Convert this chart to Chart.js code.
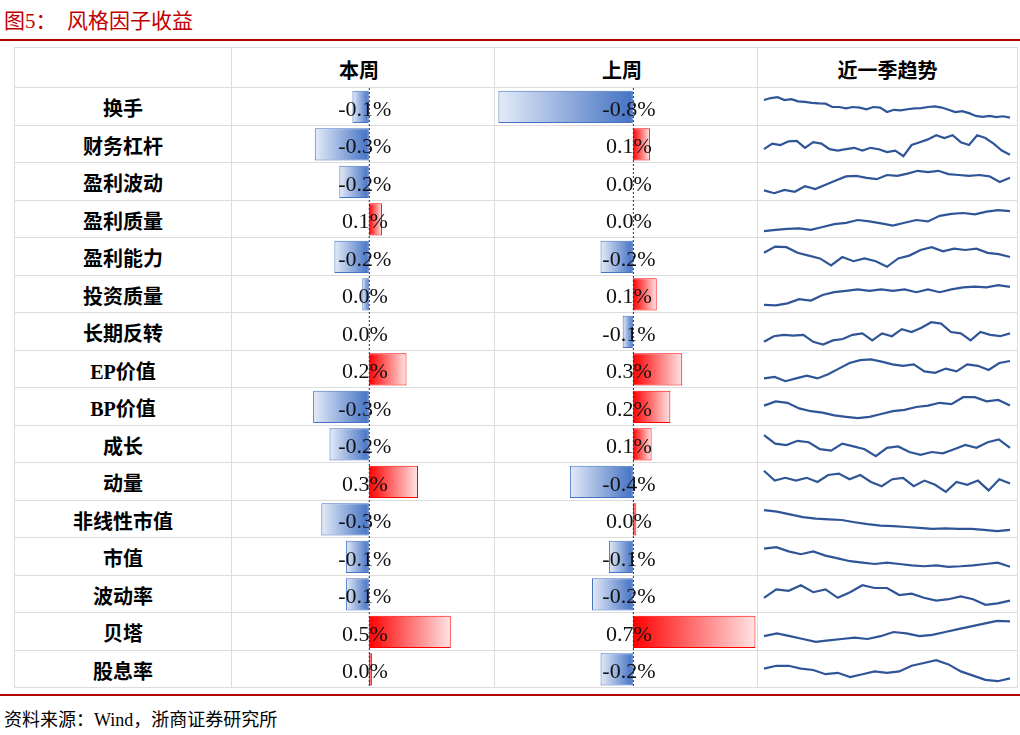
<!DOCTYPE html>
<html>
<head>
<meta charset="utf-8">
<script src="https://cdn.jsdelivr.net/npm/chart.js@4"></script>
<style>
  body { margin: 0; width: 1020px; height: 735px; background: #fff; position: relative; overflow: hidden;
         font-family: "Liberation Serif", "Noto Sans CJK SC", serif; }
  .abs { position: absolute; }
  .title { left: 4px; top: 4px; font-size: 21px; color: #c00000; }
  .redline { left: 0; width: 1020px; height: 2px; background: #b00000; }
  .cell { position: absolute; box-sizing: border-box; border: 1px solid #dcdcdc; margin-left: -1px; margin-top: -1px; }
  .lab { display: flex; align-items: center; justify-content: center; font-weight: bold; font-size: 20px; color: #000; padding-top: 3px; }
  .src { left: 4px; top: 705px; font-size: 18px; color: #000; }
</style>
</head>
<body>
<div class="abs title">图5：&nbsp;&nbsp;风格因子收益</div>
<div class="abs redline" style="top:39px"></div>
<div id="grid"></div>
<canvas id="c1" class="abs" style="left:232px;top:88px" width="263" height="600"></canvas>
<canvas id="c2" class="abs" style="left:495px;top:88px" width="263" height="600"></canvas>
<div id="sparks"></div>
<div class="abs redline" style="top:694px;height:1.5px"></div>
<div class="abs src">资料来源：Wind，浙商证券研究所</div>
<script>
const factors = ['换手','财务杠杆','盈利波动','盈利质量','盈利能力','投资质量','长期反转','EP价值','BP价值','成长','动量','非线性市值','市值','波动率','贝塔','股息率'];
const thisWeek = [-0.10,-0.33,-0.18,0.08,-0.21,-0.04,0.002,0.23,-0.34,-0.24,0.30,-0.29,-0.14,-0.14,0.50,0.02];
const lastWeek = [-0.79,0.10,0.00,0.00,-0.19,0.14,-0.06,0.29,0.22,0.11,-0.37,0.02,-0.14,-0.24,0.72,-0.19];
const trend = [
  [75,82,85,75,78,70,68,65,63,62,50,50,45,50,48,42,50,48,32,40,38,42,45,46,50,52,48,40,32,35,28,18,15,18,14,17,12],
  [35,55,50,63,65,40,60,55,35,30,35,40,30,40,35,25,30,10,50,60,70,85,75,85,60,50,85,75,55,30,15],
  [20,10,22,15,35,25,40,55,70,72,65,60,75,72,80,90,85,90,78,75,72,75,70,50,65],
  [10,15,18,20,15,25,35,40,50,45,38,30,40,50,45,65,72,75,70,80,85,82],
  [65,87,85,65,55,45,20,50,35,45,35,15,45,55,75,85,70,80,75,80,65,60,50],
  [15,13,20,35,30,50,60,65,70,65,70,65,70,60,70,60,70,77,80,77,85,79],
  [15,35,40,37,40,15,5,20,25,40,45,20,45,35,60,50,65,85,80,50,45,20,50,40,35,45],
  [20,25,10,20,30,20,35,55,75,85,88,80,70,65,70,45,40,55,45,70,65,50,75,82],
  [55,70,65,45,35,30,20,15,10,15,25,35,40,50,55,65,60,85,85,70,75,55],
  [85,55,50,65,60,35,30,55,45,35,10,40,45,25,15,25,20,35,50,40,60,70,40],
  [90,55,65,55,65,50,75,80,60,75,50,35,60,65,35,55,40,15,50,40,55,20,60,45],
  [85,80,70,60,55,52,50,42,35,30,28,25,22,18,20,18,18,15,10,15],
  [80,85,70,60,70,55,45,35,30,25,30,25,20,17,20,15,17,20,25,30,15],
  [40,70,65,85,60,70,40,60,85,75,75,50,55,40,30,35,45,35,15,20,30],
  [35,45,35,25,15,20,25,30,25,35,50,45,35,40,50,60,70,80,90,88],
  [55,65,65,55,50,35,40,25,35,45,40,45,65,75,85,70,45,30,15,10,20]
];
const headers = ['', '本周', '上周', '近一季趋势'];

const colX = [15, 232, 495, 758, 1018];
const top0 = 48, headH = 40, rowH = 37.5;

// grid + text cells
const grid = document.getElementById('grid');
function cell(x, y, w, h, text) {
  const d = document.createElement('div');
  d.className = 'cell lab';
  d.style.cssText += `left:${x}px;top:${y}px;width:${w + 1}px;height:${h + 1}px;`;
  d.textContent = text;
  grid.appendChild(d);
  return d;
}
headers.forEach((h, i) => {
  const d = cell(colX[i], top0, colX[i + 1] - colX[i], headH, h);
  if (i === 1 || i === 2) d.style.paddingRight = '8px';
});
factors.forEach((f, r) => {
  const y = top0 + headH + r * rowH;
  for (let i = 0; i < 4; i++) cell(colX[i], y, colX[i + 1] - colX[i], rowH, i === 0 ? f : '');
});

// data bar charts
function barChart(id, values, min, max) {
  new Chart(document.getElementById(id), {
    type: 'bar',
    data: {
      labels: factors,
      datasets: [{
        data: values,
        barPercentage: 0.86,
        categoryPercentage: 1,
        borderWidth: 1,
        borderSkipped: false,
        borderColor: c => c.raw < 0 ? '#4472c4' : '#ff0000',
        backgroundColor: c => {
          const { chart } = c;
          if (!chart.chartArea) return '#fff';
          const xs = chart.scales.x;
          const x0 = xs.getPixelForValue(0), x1 = xs.getPixelForValue(c.raw);
          if (Math.abs(x1 - x0) < 1) return c.raw < 0 ? '#4472c4' : '#ff0000';
          const g = chart.ctx.createLinearGradient(x0, 0, x1, 0);
          if (c.raw < 0) { g.addColorStop(0, '#4472c4'); g.addColorStop(1, '#e4ebf7'); }
          else { g.addColorStop(0, '#ff0000'); g.addColorStop(1, '#ffe4e4'); }
          return g;
        }
      }]
    },
    options: {
      indexAxis: 'y',
      responsive: false,
      animation: false,
      layout: { padding: 0 },
      scales: {
        x: { display: false, min: min, max: max },
        y: { display: false }
      },
      plugins: { legend: { display: false }, tooltip: { enabled: false } }
    },
    plugins: [{
      id: 'labels',
      afterDatasetsDraw(chart) {
        const ctx = chart.ctx, xs = chart.scales.x, ys = chart.scales.y;
        const x0 = xs.getPixelForValue(0);
        ctx.save();
        ctx.strokeStyle = '#1f2f5f';
        ctx.setLineDash([2, 2]);
        ctx.lineWidth = 1;
        ctx.beginPath();
        ctx.moveTo(x0 + 0.5, 0); ctx.lineTo(x0 + 0.5, chart.height);
        ctx.stroke();
        ctx.setLineDash([]);
        ctx.fillStyle = '#111';
        ctx.font = '22px "Liberation Serif"';
        ctx.textAlign = 'center';
        ctx.textBaseline = 'middle';
        values.forEach((v, i) => {
          ctx.fillText(v.toFixed(1).replace('-0.0', '0.0') + '%', x0 - 4, ys.getPixelForValue(i) + 3);
        });
        ctx.restore();
      }
    }]
  });
}
barChart('c1', thisWeek, -0.835, 0.77);
barChart('c2', lastWeek, -0.81, 0.735);

// sparklines
const sparks = document.getElementById('sparks');
trend.forEach((series, r) => {
  const cv = document.createElement('canvas');
  cv.className = 'abs';
  cv.width = 250; cv.height = 32;
  cv.style.left = (colX[3] + 4) + 'px';
  cv.style.top = (top0 + headH + r * rowH + 3) + 'px';
  sparks.appendChild(cv);
  new Chart(cv, {
    type: 'line',
    data: {
      labels: series.map((_, i) => i),
      datasets: [{ data: series, borderColor: '#2f5597', borderWidth: 2.2, pointRadius: 0, tension: 0 }]
    },
    options: {
      responsive: false,
      animation: false,
      layout: { padding: 2 },
      scales: { x: { display: false }, y: { display: false } },
      plugins: { legend: { display: false }, tooltip: { enabled: false } }
    }
  });
});
</script>
</body>
</html>
